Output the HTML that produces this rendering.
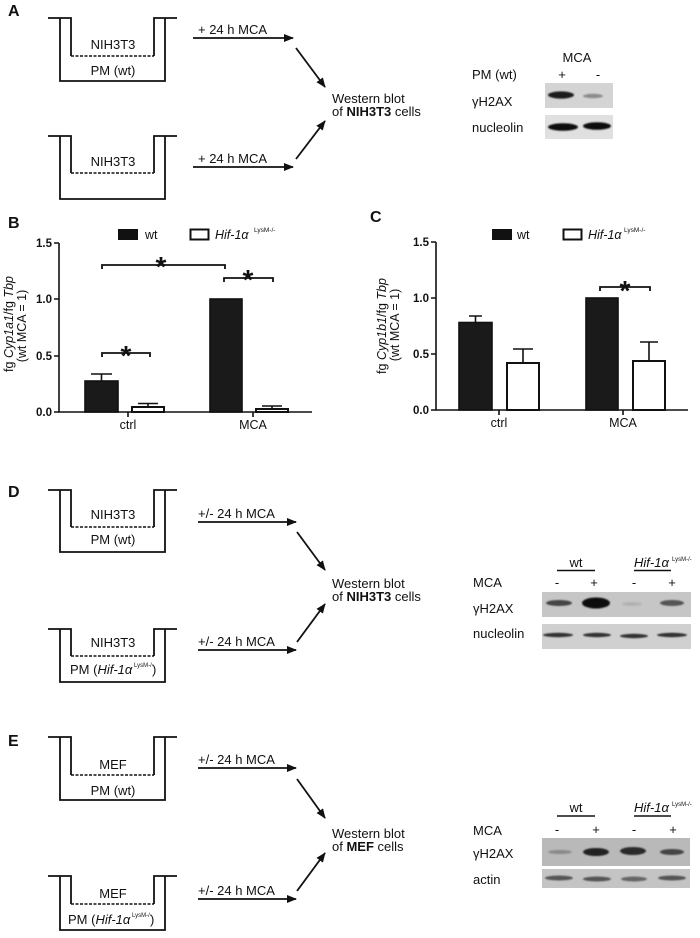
<!DOCTYPE html>
<html>
<head>
<meta charset="utf-8">
<style>
  html,body{margin:0;padding:0;background:#fff;}
  body{width:700px;height:938px;overflow:hidden;}
  svg{display:block;}
  text{font-family:"Liberation Sans",Arial,sans-serif;fill:#111;}
</style>
</head>
<body>
<svg width="700" height="938" viewBox="0 0 700 938" xmlns="http://www.w3.org/2000/svg">
  <defs>
    <marker id="ah" markerWidth="10" markerHeight="8" refX="9" refY="4" orient="auto" markerUnits="userSpaceOnUse">
      <path d="M0,0 L10,4 L0,8 z" fill="#111"/>
    </marker>
    <filter id="bl" x="-30%" y="-100%" width="160%" height="300%">
      <feGaussianBlur stdDeviation="0.9"/>
    </filter>
  </defs>

  <!-- ================= PANEL A ================= -->
  <text x="8" y="16" font-size="16" font-weight="bold">A</text>
  <g fill="none" stroke="#111" stroke-width="1.8">
    <path d="M48,18 H71 V56 M60,18 V81 H165 V18 M177,18 H154 V56"/>
    <path d="M71,56 H154" stroke-dasharray="3,1.5" stroke-width="1.5"/>
    <path d="M48,136 H71 V173 M60,136 V199 H165 V136 M177,136 H154 V173"/>
    <path d="M71,173 H154" stroke-dasharray="3,1.5" stroke-width="1.5"/>
  </g>
  <text x="113" y="49" font-size="13" text-anchor="middle">NIH3T3</text>
  <text x="113" y="75" font-size="13" text-anchor="middle">PM (wt)</text>
  <text x="113" y="166" font-size="13" text-anchor="middle">NIH3T3</text>

  <g stroke="#111" stroke-width="1.8" marker-end="url(#ah)">
    <line x1="193" y1="38" x2="293" y2="38"/>
    <line x1="193" y1="167" x2="293" y2="167"/>
    <line x1="296" y1="48" x2="325" y2="87"/>
    <line x1="296" y1="159" x2="325" y2="121"/>
  </g>
  <text x="198" y="34" font-size="13">+ 24 h MCA</text>
  <text x="198" y="163" font-size="13">+ 24 h MCA</text>
  <text x="332" y="103" font-size="13">Western blot</text>
  <text x="332" y="116" font-size="13">of <tspan font-weight="bold">NIH3T3</tspan> cells</text>

  <!-- blot A -->
  <text x="577" y="62" font-size="13" text-anchor="middle">MCA</text>
  <text x="472" y="79" font-size="13">PM (wt)</text>
  <text x="562" y="79" font-size="13" text-anchor="middle">+</text>
  <text x="598" y="79" font-size="13" text-anchor="middle">-</text>
  <text x="472" y="106" font-size="13">γH2AX</text>
  <text x="472" y="132" font-size="13">nucleolin</text>
  <rect x="545" y="83" width="68" height="25" fill="#d4d4d4"/>
  <g filter="url(#bl)">
    <ellipse cx="561" cy="95" rx="13" ry="3.6" fill="#1e1e1e"/>
    <ellipse cx="593" cy="96" rx="10" ry="2.2" fill="#8c8c8c"/>
  </g>
  <rect x="545" y="115" width="68" height="24" fill="#e0e0e0"/>
  <g filter="url(#bl)">
    <ellipse cx="563" cy="127" rx="15" ry="3.8" fill="#111"/>
    <ellipse cx="597" cy="126" rx="14" ry="3.8" fill="#111"/>
  </g>

  <!-- ================= PANEL B ================= -->
  <text x="8" y="228" font-size="16" font-weight="bold">B</text>
  <rect x="118" y="229" width="20" height="11" fill="#111"/>
  <text x="145" y="239" font-size="12.5">wt</text>
  <rect x="190.5" y="229.5" width="18" height="10" fill="#fff" stroke="#111" stroke-width="2"/>
  <text x="215" y="239" font-size="12.5" font-style="italic">Hif-1α</text>
  <text x="254" y="232" font-size="6.5">LysM-/-</text>

  <g stroke="#111" stroke-width="1.6" fill="none">
    <path d="M59,243 V412 H312"/>
    <path d="M54,243 H59 M54,299 H59 M54,356 H59 M54,412 H59"/>
    <path d="M128,412 V417 M253,412 V417"/>
  </g>
  <g font-size="11.5" font-weight="bold" text-anchor="end">
    <text x="52" y="247">1.5</text>
    <text x="52" y="303">1.0</text>
    <text x="52" y="360">0.5</text>
    <text x="52" y="416">0.0</text>
  </g>
  <!-- bars B -->
  <g stroke="#111" stroke-width="1.6">
    <rect x="85" y="381" width="33" height="31" fill="#1a1a1a"/>
    <path d="M101.5,381 V374 M91,374 H112" fill="none"/>
    <rect x="132" y="407" width="32" height="5" fill="#fff" stroke-width="2"/>
    <path d="M148,407 V403.5 M138,403.5 H158" fill="none"/>
    <rect x="210" y="299" width="32" height="113" fill="#1a1a1a"/>
    <rect x="256" y="409" width="32" height="3" fill="#fff" stroke-width="2"/>
    <path d="M272,409 V406 M262,406 H282" fill="none"/>
  </g>
  <g stroke="#111" stroke-width="1.8" fill="none">
    <path d="M102,269 V265 H225 V269"/>
    <path d="M224,282 V278 H273 V282"/>
    <path d="M102,357 V353 H150 V357"/>
  </g>
  <g font-size="28" font-weight="bold" text-anchor="middle">
    <text x="161" y="276">*</text>
    <text x="248" y="289">*</text>
    <text x="126" y="365">*</text>
  </g>
  <text x="128" y="429" font-size="12.5" text-anchor="middle">ctrl</text>
  <text x="253" y="429" font-size="12.5" text-anchor="middle">MCA</text>
  <text transform="translate(13,324) rotate(-90)" font-size="12.5" text-anchor="middle">fg <tspan font-style="italic">Cyp1a1</tspan>/fg <tspan font-style="italic">Tbp</tspan></text>
  <text transform="translate(26,326) rotate(-90)" font-size="12.5" text-anchor="middle">(wt MCA = 1)</text>

  <!-- ================= PANEL C ================= -->
  <text x="370" y="222" font-size="16" font-weight="bold">C</text>
  <rect x="492" y="229" width="20" height="11" fill="#111"/>
  <text x="517" y="239" font-size="12.5">wt</text>
  <rect x="563.5" y="229.5" width="18" height="10" fill="#fff" stroke="#111" stroke-width="2"/>
  <text x="588" y="239" font-size="12.5" font-style="italic">Hif-1α</text>
  <text x="624" y="232" font-size="6.5">LysM-/-</text>

  <g stroke="#111" stroke-width="1.6" fill="none">
    <path d="M436,242 V410 H688"/>
    <path d="M431,242 H436 M431,298 H436 M431,354 H436 M431,410 H436"/>
    <path d="M499,410 V415 M623,410 V415"/>
  </g>
  <g font-size="11.5" font-weight="bold" text-anchor="end">
    <text x="429" y="246">1.5</text>
    <text x="429" y="302">1.0</text>
    <text x="429" y="358">0.5</text>
    <text x="429" y="414">0.0</text>
  </g>
  <g stroke="#111" stroke-width="1.6">
    <rect x="459" y="322.5" width="33" height="87.5" fill="#1a1a1a"/>
    <path d="M475.5,322.5 V316 M469,316 H482" fill="none"/>
    <rect x="507" y="363" width="32" height="47" fill="#fff" stroke-width="2"/>
    <path d="M523,363 V349 M513,349 H533" fill="none"/>
    <rect x="586" y="298" width="32" height="112" fill="#1a1a1a"/>
    <rect x="633" y="361" width="32" height="49" fill="#fff" stroke-width="2"/>
    <path d="M649,361 V342 M640,342 H658" fill="none"/>
  </g>
  <path d="M600,291 V287 H650 V291" stroke="#111" stroke-width="1.8" fill="none"/>
  <text x="625" y="300" font-size="28" font-weight="bold" text-anchor="middle">*</text>
  <text x="499" y="427" font-size="12.5" text-anchor="middle">ctrl</text>
  <text x="623" y="427" font-size="12.5" text-anchor="middle">MCA</text>
  <text transform="translate(386,326) rotate(-90)" font-size="12.5" text-anchor="middle">fg <tspan font-style="italic">Cyp1b1</tspan>/fg <tspan font-style="italic">Tbp</tspan></text>
  <text transform="translate(399,325) rotate(-90)" font-size="12.5" text-anchor="middle">(wt MCA = 1)</text>

  <!-- ================= PANEL D ================= -->
  <text x="8" y="497" font-size="16" font-weight="bold">D</text>
  <g fill="none" stroke="#111" stroke-width="1.8">
    <path d="M48,490 H71 V527 M60,490 V552 H165 V490 M177,490 H154 V527"/>
    <path d="M71,527 H154" stroke-dasharray="3,1.5" stroke-width="1.5"/>
    <path d="M48,629 H71 V656 M60,629 V682 H165 V629 M177,629 H154 V656"/>
    <path d="M71,656 H154" stroke-dasharray="3,1.5" stroke-width="1.5"/>
  </g>
  <text x="113" y="519" font-size="13" text-anchor="middle">NIH3T3</text>
  <text x="113" y="544" font-size="13" text-anchor="middle">PM (wt)</text>
  <text x="113" y="647" font-size="13" text-anchor="middle">NIH3T3</text>
  <text x="70" y="674" font-size="13">PM (<tspan font-style="italic">Hif-1α</tspan> </text>
  <text x="134" y="667" font-size="6">LysM-/-</text>
  <text x="152" y="674" font-size="13">)</text>

  <g stroke="#111" stroke-width="1.8" marker-end="url(#ah)">
    <line x1="198" y1="522" x2="296" y2="522"/>
    <line x1="198" y1="650" x2="296" y2="650"/>
    <line x1="297" y1="532" x2="325" y2="570"/>
    <line x1="297" y1="642" x2="325" y2="604"/>
  </g>
  <text x="198" y="518" font-size="13">+/- 24 h MCA</text>
  <text x="198" y="646" font-size="13">+/- 24 h MCA</text>
  <text x="332" y="588" font-size="13">Western blot</text>
  <text x="332" y="601" font-size="13">of <tspan font-weight="bold">NIH3T3</tspan> cells</text>

  <!-- blot D -->
  <text x="576" y="567" font-size="13" text-anchor="middle">wt</text>
  <path d="M557,570.5 H595 M634,570.5 H671" stroke="#111" stroke-width="1.6"/>
  <text x="634" y="567" font-size="13" font-style="italic">Hif-1α</text>
  <text x="672" y="561" font-size="6">LysM-/-</text>
  <text x="473" y="587" font-size="13">MCA</text>
  <g font-size="13" text-anchor="middle">
    <text x="557" y="587">-</text>
    <text x="594" y="587">+</text>
    <text x="634" y="587">-</text>
    <text x="672" y="587">+</text>
  </g>
  <text x="473" y="613" font-size="13">γH2AX</text>
  <text x="473" y="638" font-size="13">nucleolin</text>
  <rect x="542" y="592" width="149" height="25" fill="#c6c6c6"/>
  <g filter="url(#bl)">
    <ellipse cx="559" cy="603" rx="13" ry="3" fill="#444"/>
    <ellipse cx="596" cy="603" rx="14" ry="5.5" fill="#111"/>
    <ellipse cx="632" cy="604" rx="10" ry="2" fill="#b2b2b2"/>
    <ellipse cx="672" cy="603" rx="12" ry="3" fill="#555"/>
  </g>
  <rect x="542" y="624" width="149" height="25" fill="#d0d0d0"/>
  <g filter="url(#bl)">
    <ellipse cx="558" cy="635" rx="15" ry="2.2" fill="#333"/>
    <ellipse cx="597" cy="635" rx="14" ry="2.2" fill="#333"/>
    <ellipse cx="634" cy="636" rx="14" ry="2.2" fill="#333"/>
    <ellipse cx="672" cy="635" rx="15" ry="2.2" fill="#333"/>
  </g>

  <!-- ================= PANEL E ================= -->
  <text x="8" y="746" font-size="16" font-weight="bold">E</text>
  <g fill="none" stroke="#111" stroke-width="1.8">
    <path d="M48,737 H71 V775 M60,737 V800 H165 V737 M177,737 H154 V775"/>
    <path d="M71,775 H154" stroke-dasharray="3,1.5" stroke-width="1.5"/>
    <path d="M48,876 H71 V904 M60,876 V930 H165 V876 M177,876 H154 V904"/>
    <path d="M71,904 H154" stroke-dasharray="3,1.5" stroke-width="1.5"/>
  </g>
  <text x="113" y="769" font-size="13" text-anchor="middle">MEF</text>
  <text x="113" y="795" font-size="13" text-anchor="middle">PM (wt)</text>
  <text x="113" y="898" font-size="13" text-anchor="middle">MEF</text>
  <text x="68" y="924" font-size="13">PM (<tspan font-style="italic">Hif-1α</tspan> </text>
  <text x="132" y="917" font-size="6">LysM-/-</text>
  <text x="150" y="924" font-size="13">)</text>

  <g stroke="#111" stroke-width="1.8" marker-end="url(#ah)">
    <line x1="198" y1="768" x2="296" y2="768"/>
    <line x1="198" y1="899" x2="296" y2="899"/>
    <line x1="297" y1="779" x2="325" y2="818"/>
    <line x1="297" y1="891" x2="325" y2="853"/>
  </g>
  <text x="198" y="764" font-size="13">+/- 24 h MCA</text>
  <text x="198" y="895" font-size="13">+/- 24 h MCA</text>
  <text x="332" y="838" font-size="13">Western blot</text>
  <text x="332" y="851" font-size="13">of <tspan font-weight="bold">MEF</tspan> cells</text>

  <!-- blot E -->
  <text x="576" y="812" font-size="13" text-anchor="middle">wt</text>
  <path d="M557,816 H595 M634,816 H671" stroke="#111" stroke-width="1.6"/>
  <text x="634" y="812" font-size="13" font-style="italic">Hif-1α</text>
  <text x="672" y="806" font-size="6">LysM-/-</text>
  <text x="473" y="835" font-size="13">MCA</text>
  <g font-size="13" text-anchor="middle">
    <text x="557" y="834">-</text>
    <text x="596" y="834">+</text>
    <text x="634" y="834">-</text>
    <text x="673" y="834">+</text>
  </g>
  <text x="473" y="858" font-size="13">γH2AX</text>
  <text x="473" y="884" font-size="13">actin</text>
  <rect x="542" y="838" width="148" height="28" fill="#b9b9b9"/>
  <g filter="url(#bl)">
    <ellipse cx="560" cy="852" rx="12" ry="2" fill="#8a8a8a"/>
    <ellipse cx="596" cy="852" rx="13" ry="4" fill="#222"/>
    <ellipse cx="633" cy="851" rx="13" ry="4" fill="#2a2a2a"/>
    <ellipse cx="672" cy="852" rx="12" ry="3" fill="#444"/>
  </g>
  <rect x="542" y="869" width="148" height="19" fill="#c4c4c4"/>
  <g filter="url(#bl)">
    <ellipse cx="559" cy="878" rx="14" ry="2.5" fill="#555"/>
    <ellipse cx="597" cy="879" rx="14" ry="2.5" fill="#555"/>
    <ellipse cx="634" cy="879" rx="13" ry="2.5" fill="#666"/>
    <ellipse cx="672" cy="878" rx="14" ry="2.5" fill="#555"/>
  </g>
</svg>
</body>
</html>
